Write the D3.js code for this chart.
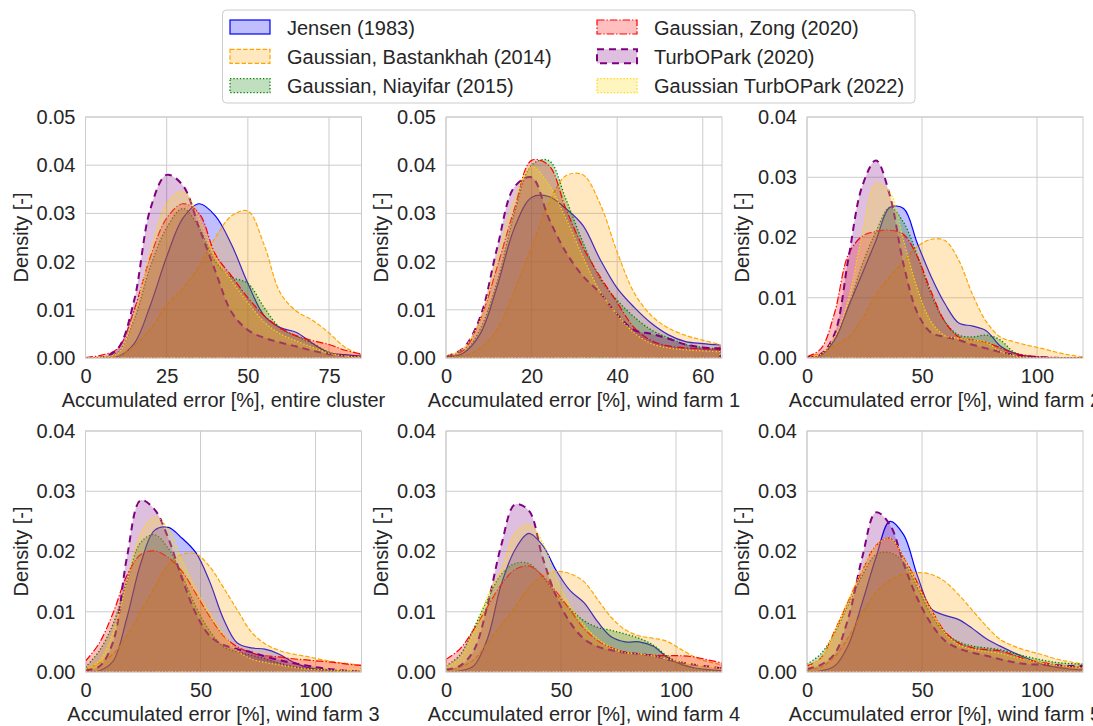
<!DOCTYPE html>
<html>
<head>
<meta charset="utf-8">
<script src="https://cdn.jsdelivr.net/npm/d3@7"></script>
<style>
  body { margin: 0; background: #fff; }
  text { font-family: "Liberation Sans", Arial, sans-serif; fill: #262626; }
</style>
</head>
<body>
<svg id="chart"></svg>
<script>
// model names (legend order = drawing order)
const models = ["Jensen (1983)", "Gaussian, Bastankhah (2014)", "Gaussian, Niayifar (2015)",
  "Gaussian, Zong (2020)", "TurbOPark (2020)", "Gaussian TurbOPark (2022)"];
const colors = ["blue", "orange", "green", "red", "purple", "gold"];

const xLabels = ["Accumulated error [%], entire cluster", "Accumulated error [%], wind farm 1",
  "Accumulated error [%], wind farm 2", "Accumulated error [%], wind farm 3",
  "Accumulated error [%], wind farm 4", "Accumulated error [%], wind farm 5"];

// x grid the densities are read at
const xCluster = [0, 5, 10, 15, 20, 25, 30, 35, 40, 45, 50, 55, 60, 65, 70, 75, 80, 85];
const xFarm1 = [0, 4, 8, 12, 16, 20, 24, 28, 32, 36, 40, 44, 48, 52, 56, 60, 64];
const xFarm = [0, 6, 12, 18, 24, 30, 36, 42, 48, 54, 60, 66, 72, 78, 84, 90, 96, 102, 108, 114, 120];

// densities, one row per model
const densCluster = [
  [0, 0, 0.0003, 0.003, 0.011, 0.021, 0.029, 0.032, 0.0295, 0.0235, 0.0155, 0.0088, 0.0063, 0.0053, 0.003, 0.0011, 0.0007, 0.0004],
  [0, 0.0001, 0.0005, 0.0025, 0.006, 0.011, 0.0145, 0.019, 0.025, 0.0295, 0.0305, 0.0235, 0.0135, 0.0097, 0.0078, 0.0052, 0.0022, 0.0006],
  [0, 0.0002, 0.0012, 0.008, 0.019, 0.027, 0.031, 0.027, 0.020, 0.0168, 0.0155, 0.0105, 0.0062, 0.0045, 0.003, 0.0012, 0.0005, 0.0002],
  [0.0001, 0.0006, 0.002, 0.010, 0.021, 0.029, 0.032, 0.030, 0.0215, 0.017, 0.0125, 0.0088, 0.0062, 0.0046, 0.0036, 0.0028, 0.0016, 0.0008],
  [0, 0.0001, 0.002, 0.012, 0.031, 0.038, 0.0358, 0.027, 0.018, 0.0095, 0.0058, 0.0042, 0.0032, 0.0024, 0.0015, 0.0008, 0.0004, 0.0002],
  [0, 0.0002, 0.001, 0.009, 0.022, 0.032, 0.0345, 0.029, 0.021, 0.016, 0.0115, 0.0075, 0.005, 0.0035, 0.0022, 0.001, 0.0004, 0.0002]
];
const densFarm1 = [
  [0.0002, 0.001, 0.005, 0.015, 0.027, 0.0333, 0.0335, 0.031, 0.0275, 0.0205, 0.0145, 0.0105, 0.0072, 0.0048, 0.0034, 0.003, 0.0027],
  [0.0002, 0.0005, 0.002, 0.006, 0.014, 0.023, 0.032, 0.0378, 0.038, 0.032, 0.022, 0.0135, 0.0088, 0.0062, 0.0047, 0.0037, 0.0028],
  [0.0003, 0.001, 0.006, 0.016, 0.030, 0.040, 0.041, 0.033, 0.024, 0.0165, 0.012, 0.0085, 0.0058, 0.0042, 0.0028, 0.0022, 0.0018],
  [0.0004, 0.0015, 0.008, 0.019, 0.031, 0.041, 0.040, 0.031, 0.023, 0.0169, 0.0115, 0.0063, 0.0036, 0.0025, 0.0021, 0.0019, 0.0018],
  [0.0003, 0.002, 0.0085, 0.023, 0.0355, 0.0375, 0.029, 0.022, 0.017, 0.0135, 0.009, 0.0058, 0.005, 0.004, 0.0028, 0.0022, 0.002],
  [0.0005, 0.002, 0.008, 0.021, 0.033, 0.0397, 0.036, 0.029, 0.021, 0.0138, 0.009, 0.0052, 0.003, 0.0021, 0.0017, 0.0015, 0.0013]
];
const densFarm2 = [
  [0, 0.0005, 0.003, 0.0085, 0.014, 0.0195, 0.025, 0.0248, 0.019, 0.0135, 0.009, 0.0058, 0.0053, 0.0045, 0.002, 0.0008, 0.0003, 0.0001, 0, 0, 0],
  [0.0002, 0.0008, 0.002, 0.0035, 0.0065, 0.0105, 0.0135, 0.016, 0.0185, 0.0197, 0.0195, 0.0162, 0.0105, 0.006, 0.0035, 0.0027, 0.0021, 0.0016, 0.001, 0.0005, 0.0002],
  [0.0001, 0.0004, 0.003, 0.0085, 0.0155, 0.021, 0.025, 0.0225, 0.017, 0.0105, 0.006, 0.0038, 0.0035, 0.0038, 0.003, 0.001, 0.0003, 0.0001, 0, 0, 0],
  [0.0002, 0.0015, 0.0075, 0.0172, 0.0202, 0.021, 0.0212, 0.0205, 0.0168, 0.011, 0.006, 0.0035, 0.003, 0.0026, 0.0017, 0.0008, 0.0004, 0.0002, 0.0001, 0, 0],
  [0.0001, 0.0006, 0.004, 0.0165, 0.0285, 0.0328, 0.027, 0.0155, 0.0075, 0.0042, 0.0035, 0.003, 0.0022, 0.0016, 0.001, 0.0005, 0.0002, 0.0001, 0, 0, 0],
  [0.0001, 0.0006, 0.0035, 0.0098, 0.0205, 0.029, 0.0275, 0.0195, 0.0115, 0.006, 0.0037, 0.0033, 0.003, 0.0026, 0.0011, 0.0004, 0.0001, 0, 0, 0, 0]
];
const densFarm3 = [
  [0, 0.0002, 0.0018, 0.009, 0.018, 0.0235, 0.024, 0.0222, 0.0198, 0.015, 0.0088, 0.0048, 0.004, 0.0038, 0.003, 0.0017, 0.0008, 0.0004, 0.0002, 0.0001, 0],
  [0.0005, 0.0015, 0.003, 0.006, 0.01, 0.014, 0.0178, 0.0195, 0.0196, 0.0175, 0.014, 0.0103, 0.0067, 0.0047, 0.0036, 0.003, 0.0026, 0.0021, 0.0017, 0.0014, 0.0011],
  [0.0008, 0.0035, 0.008, 0.015, 0.0215, 0.0228, 0.0205, 0.016, 0.0108, 0.0068, 0.0042, 0.0033, 0.0028, 0.0022, 0.0015, 0.0009, 0.0006, 0.0004, 0.0003, 0.0002, 0.0001],
  [0.0018, 0.0048, 0.0098, 0.016, 0.0195, 0.0201, 0.019, 0.0167, 0.013, 0.0092, 0.006, 0.0042, 0.0032, 0.0027, 0.0025, 0.0022, 0.002, 0.0018, 0.0016, 0.0013, 0.0011],
  [0.0003, 0.0009, 0.005, 0.019, 0.0285, 0.027, 0.0222, 0.0155, 0.0097, 0.006, 0.0045, 0.0038, 0.0033, 0.0026, 0.002, 0.0015, 0.0011, 0.0007, 0.0004, 0.0002, 0.0001],
  [0.0005, 0.0018, 0.0065, 0.015, 0.023, 0.0257, 0.0238, 0.0185, 0.0138, 0.0097, 0.0062, 0.0035, 0.0022, 0.0016, 0.0012, 0.0008, 0.0005, 0.0004, 0.0003, 0.0003, 0.0003]
];
const densFarm4 = [
  [0, 0.0002, 0.001, 0.0055, 0.0145, 0.0203, 0.023, 0.021, 0.0168, 0.0135, 0.0115, 0.0083, 0.0058, 0.005, 0.005, 0.0043, 0.0025, 0.0013, 0.0007, 0.0004, 0.0002],
  [0.0003, 0.0008, 0.002, 0.0048, 0.0078, 0.0107, 0.014, 0.016, 0.0167, 0.0163, 0.015, 0.012, 0.009, 0.007, 0.006, 0.0056, 0.0051, 0.0038, 0.0025, 0.0017, 0.0012],
  [0.001, 0.0028, 0.0072, 0.012, 0.0162, 0.018, 0.018, 0.0158, 0.0128, 0.0105, 0.0085, 0.0074, 0.0069, 0.0063, 0.0056, 0.0045, 0.0027, 0.0014, 0.0006, 0.0003, 0.0001],
  [0.0021, 0.0038, 0.007, 0.0108, 0.0145, 0.017, 0.0176, 0.016, 0.0133, 0.0103, 0.0072, 0.0052, 0.004, 0.0033, 0.003, 0.0028, 0.0027, 0.0027, 0.0025, 0.002, 0.0015],
  [0.0004, 0.001, 0.0035, 0.011, 0.021, 0.0278, 0.0268, 0.019, 0.0125, 0.0082, 0.0055, 0.0042, 0.0036, 0.0032, 0.003, 0.0027, 0.0021, 0.0016, 0.0012, 0.0009, 0.0006],
  [0.0008, 0.0022, 0.0065, 0.0125, 0.017, 0.023, 0.0245, 0.0215, 0.0155, 0.011, 0.0078, 0.0055, 0.004, 0.0032, 0.003, 0.0027, 0.0022, 0.0017, 0.0013, 0.0009, 0.0006]
];
const densFarm5 = [
  [0, 0.0002, 0.001, 0.0045, 0.0115, 0.019, 0.025, 0.0228, 0.016, 0.0105, 0.0094, 0.0087, 0.0072, 0.0055, 0.0043, 0.0032, 0.0022, 0.0013, 0.0008, 0.0005, 0.0003],
  [0.0003, 0.0008, 0.0025, 0.0058, 0.0098, 0.0132, 0.0152, 0.0162, 0.0165, 0.0162, 0.015, 0.0128, 0.0102, 0.0076, 0.0054, 0.0043, 0.0035, 0.0029, 0.0022, 0.0017, 0.0013],
  [0.0013, 0.003, 0.0065, 0.0112, 0.016, 0.0195, 0.0198, 0.0182, 0.014, 0.0095, 0.0065, 0.005, 0.0043, 0.004, 0.0037, 0.0031, 0.0025, 0.002, 0.0016, 0.0014, 0.0013],
  [0.001, 0.0023, 0.0068, 0.0118, 0.0168, 0.021, 0.0222, 0.019, 0.0148, 0.0104, 0.0067, 0.0048, 0.004, 0.0037, 0.0035, 0.0028, 0.002, 0.0016, 0.0012, 0.0009, 0.0007],
  [0.0005, 0.0012, 0.003, 0.009, 0.019, 0.0265, 0.0245, 0.018, 0.0122, 0.008, 0.0052, 0.0039, 0.0032, 0.0027, 0.0021, 0.0016, 0.0013, 0.0012, 0.0011, 0.001, 0.001],
  [0.0008, 0.0023, 0.0068, 0.012, 0.017, 0.021, 0.0222, 0.019, 0.0145, 0.0103, 0.0065, 0.0045, 0.0038, 0.0034, 0.0031, 0.0025, 0.002, 0.0015, 0.0011, 0.0009, 0.0007]
];

const ticksX85 = [0, 25, 50, 75];
const ticksX65 = [0, 20, 40, 60];
const ticksX120 = [0, 50, 100];
const ticksY05 = [0, 0.01, 0.02, 0.03, 0.04, 0.05];
const ticksY04 = [0, 0.01, 0.02, 0.03, 0.04];

// line styles per model
const widths = [1.2, 1.2, 1.3, 1.2, 2, 1.3];
const dashes = [null, "4.5,2", "1.3,2", "7.5,2,1.3,2", "7,5", "1.3,2"];

const W = 1093, H = 726;
const svg = d3.select("#chart").attr("width", W).attr("height", H);

const panels = [
  { xs: xCluster, dens: densCluster, xmax: 85, ymax: 0.05, xt: ticksX85, yt: ticksY05 },
  { xs: xFarm1, dens: densFarm1, xmax: 64.5, ymax: 0.05, xt: ticksX65, yt: ticksY05 },
  { xs: xFarm, dens: densFarm2, xmax: 120, ymax: 0.04, xt: ticksX120, yt: ticksY04 },
  { xs: xFarm, dens: densFarm3, xmax: 120, ymax: 0.04, xt: ticksX120, yt: ticksY04 },
  { xs: xFarm, dens: densFarm4, xmax: 120, ymax: 0.04, xt: ticksX120, yt: ticksY04 },
  { xs: xFarm, dens: densFarm5, xmax: 120, ymax: 0.04, xt: ticksX120, yt: ticksY04 }
];

const colLeft = [85.5, 446, 807];
const rowTop = [117, 431];
const pw = 276, ph = 241;

panels.forEach(function(p, i) {
  let left = colLeft[i % 3];
  let top = rowTop[Math.floor(i / 3)];

  let x = d3.scaleLinear().domain([0, p.xmax]).range([0, pw]);
  let y = d3.scaleLinear().domain([0, p.ymax]).range([ph, 0]);

  let g = svg.append("g").attr("transform", "translate(" + left + "," + top + ")");

  // grid
  g.append("g").selectAll("line.gx").data(p.xt).enter().append("line")
    .attr("x1", d => x(d)).attr("x2", d => x(d)).attr("y1", 0).attr("y2", ph)
    .attr("stroke", "#cccccc").attr("stroke-width", 1);
  g.append("g").selectAll("line.gy").data(p.yt).enter().append("line")
    .attr("x1", 0).attr("x2", pw).attr("y1", d => y(d)).attr("y2", d => y(d))
    .attr("stroke", "#cccccc").attr("stroke-width", 1);

  g.append("clipPath").attr("id", "clip" + i)
    .append("rect").attr("width", pw).attr("height", ph);

  let area = d3.area()
    .x(d => x(d[0]))
    .y0(y(0))
    .y1(d => y(d[1]))
    .curve(d3.curveCatmullRom.alpha(0.5));

  let plot = g.append("g").attr("clip-path", "url(#clip" + i + ")");
  p.dens.forEach(function(vals, k) {
    let pts = p.xs.map((xv, j) => [xv, vals[j]]);
    plot.append("path")
      .datum(pts)
      .attr("d", area)
      .attr("fill", colors[k])
      .attr("fill-opacity", 0.25)
      .attr("stroke", colors[k])
      .attr("stroke-width", widths[k])
      .attr("stroke-dasharray", dashes[k])
      .attr("stroke-linejoin", "round");
  });

  // frame
  g.append("rect").attr("width", pw).attr("height", ph)
    .attr("fill", "none").attr("stroke", "#cccccc").attr("stroke-width", 1);

  // axes
  let ax = g.append("g").attr("transform", "translate(0," + ph + ")")
    .call(d3.axisBottom(x).tickValues(p.xt).tickSize(0).tickPadding(11).tickFormat(d3.format("d")));
  let ay = g.append("g")
    .call(d3.axisLeft(y).tickValues(p.yt).tickSize(0).tickPadding(10).tickFormat(d3.format(".2f")));
  [ax, ay].forEach(a => {
    a.select(".domain").remove();
    a.selectAll("text").style("font-size", "20px").style("font-family", "'Liberation Sans', Arial, sans-serif").attr("fill", "#262626");
  });

  g.append("text")
    .attr("x", pw / 2).attr("y", ph + 49)
    .attr("text-anchor", "middle")
    .style("font-size", "20px")
    .text(xLabels[i]);

  g.append("text")
    .attr("transform", "translate(-58," + (ph / 2) + ") rotate(-90)")
    .attr("text-anchor", "middle")
    .style("font-size", "20px")
    .text("Density [-]");
});

// legend
let lg = svg.append("g");
lg.append("rect")
  .attr("x", 222.5).attr("y", 10).attr("width", 692.5).attr("height", 93)
  .attr("rx", 4).attr("fill", "#fff").attr("fill-opacity", 0.8)
  .attr("stroke", "#cccccc").attr("stroke-width", 1);

models.forEach(function(name, k) {
  let col = k < 3 ? 0 : 1;
  let row = k % 3;
  let px = col ? 597 : 230;
  let py = 20 + row * 29.3;
  lg.append("rect")
    .attr("x", px).attr("y", py).attr("width", 40).attr("height", 14)
    .attr("fill", colors[k]).attr("fill-opacity", 0.25)
    .attr("stroke", colors[k]).attr("stroke-width", widths[k])
    .attr("stroke-dasharray", dashes[k]);
  lg.append("text")
    .attr("x", px + 57).attr("y", py + 14.5)
    .style("font-size", "20px")
    .text(name);
});
</script>
</body>
</html>
